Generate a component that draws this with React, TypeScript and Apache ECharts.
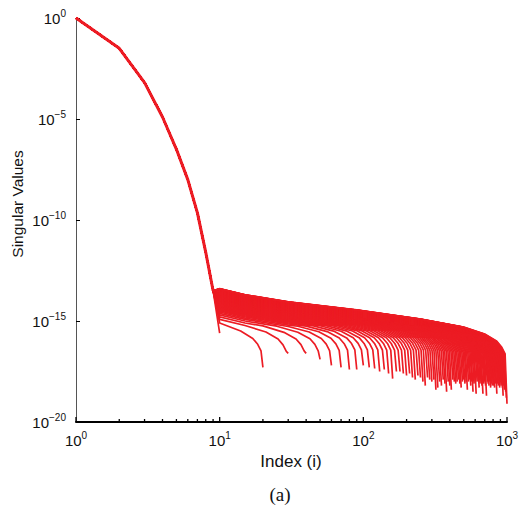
import React, { useEffect, useRef } from "react";
import * as echarts from "echarts";

// Shared head of every curve (index 1..9), exponents of the singular values
const HEAD_INDEX = [1, 2, 3, 4, 5, 6, 7, 8, 9];
const HEAD_EXP = [0, -1.5, -3.2, -4.9, -6.5, -8.0, -9.65, -11.6, -13.5];

// Tail body shape (offset from each curve's level at index 10)
const BODY_INDEX = [10, 15, 30, 90, 250, 1000];
const BODY_OFFSET = [0, -0.3, -0.65, -1.05, -1.5, -2.3];

// Final roll-off of each curve, as a fraction of its size
const DROP_FRACTION = [0.5, 0.7, 0.85, 0.92, 0.97];
const DROP_OFFSET = [0, -0.15, -0.4, -0.65, -0.95];

// Level at index 10 by matrix size
const START_SIZE = [10, 20, 50, 100, 200, 500, 1000];
const START_EXP = [-15.2, -15.1, -14.7, -14.4, -14.1, -13.7, -13.4];

// Matrix sizes (one curve each) and the exponent of its last singular value
const SIZES = [
  10, 20, 30, 40, 50, 60, 70, 80, 90, 100,
  110, 120, 130, 140, 150, 160, 170, 180, 190, 200,
  210, 220, 230, 240, 250, 260, 270, 280, 290, 300,
  310, 320, 330, 340, 350, 360, 370, 380, 390, 400,
  410, 420, 430, 440, 450, 460, 470, 480, 490, 500,
  510, 520, 530, 540, 550, 560, 570, 580, 590, 600,
  610, 620, 630, 640, 650, 660, 670, 680, 690, 700,
  710, 720, 730, 740, 750, 760, 770, 780, 790, 800,
  810, 820, 830, 840, 850, 860, 870, 880, 890, 900,
  910, 920, 930, 940, 950, 960, 970, 980, 990, 1000,
];
const END_EXP = [
  -15.6, -17.3, -16.6, -16.6, -16.9, -17.2, -17.3, -17.4, -17.4, -17.2,
  -17.3, -17.35, -17.5, -17.4, -17.6, -17.85, -17.5, -17.5, -17.6, -17.7,
  -17.6, -17.8, -17.9, -17.7, -17.8, -18.0, -18.2, -17.8, -17.9, -18.0,
  -17.9, -18.4, -18.3, -18.0, -18.2, -17.9, -18.1, -18.5, -18.0, -18.2,
  -18.4, -17.9, -18.0, -18.1, -18.0, -17.9, -18.1, -18.3, -18.0, -17.9,
  -18.1, -18.0, -18.4, -18.0, -17.9, -18.2, -18.0, -18.5, -18.1, -18.0,
  -18.6, -18.0, -17.9, -18.3, -18.1, -18.0, -18.2, -18.6, -18.1, -18.0,
  -18.2, -18.7, -18.0, -18.1, -18.2, -18.0, -18.3, -18.1, -18.2, -18.0,
  -18.2, -18.3, -18.1, -18.0, -18.6, -18.1, -18.2, -18.0, -18.3, -18.0,
  -18.2, -18.1, -18.3, -18.7, -18.2, -18.4, -18.3, -18.5, -18.8, -19.1,
];

const X_MAJOR_TICKS = [1, 10, 100, 1000];
const X_MINOR_TICKS = [2, 3, 4, 5, 6, 7, 8, 9, 20, 30, 40, 50, 60, 70, 80, 90, 200, 300, 400, 500, 600, 700, 800, 900];
const Y_MIN = 1e-20;

const RED = "#ec1c24";
const FONT = "Liberation Sans";
const SERIF = "Liberation Serif";

function interpLog(xs: number[], ys: number[], x: number): number {
  if (x <= xs[0]) return ys[0];
  if (x >= xs[xs.length - 1]) return ys[ys.length - 1];
  for (let k = 0; k < xs.length - 1; k++) {
    if (x >= xs[k] && x <= xs[k + 1]) {
      const t = (Math.log10(x) - Math.log10(xs[k])) / (Math.log10(xs[k + 1]) - Math.log10(xs[k]));
      return ys[k] + t * (ys[k + 1] - ys[k]);
    }
  }
  return ys[ys.length - 1];
}

function curve(n: number, endExp: number): number[][] {
  const pts: number[][] = HEAD_INDEX.map((i, k) => [i, Math.pow(10, HEAD_EXP[k])]);
  const start = interpLog(START_SIZE, START_EXP, n);
  let last = 9;
  for (let k = 0; k < BODY_INDEX.length; k++) {
    const i = BODY_INDEX[k];
    if (i <= 0.5 * n) {
      pts.push([i, Math.pow(10, start + BODY_OFFSET[k])]);
      last = i;
    }
  }
  for (let k = 0; k < DROP_FRACTION.length; k++) {
    const i = DROP_FRACTION[k] * n;
    if (i > last && i > 10 && i < n) {
      const v = start + interpLog(BODY_INDEX, BODY_OFFSET, i) + DROP_OFFSET[k];
      if (v > endExp) {
        pts.push([i, Math.pow(10, v)]);
        last = i;
      }
    }
  }
  pts.push([n, Math.pow(10, endExp)]);
  return pts;
}

function powLabel(value: number): string {
  const e = Math.round(Math.log10(value));
  const s = e < 0 ? "\u2212" + -e : String(e);
  return "{b|10}{s|" + s + "}";
}

const richLabel = {
  b: { fontSize: 15, fontFamily: FONT, color: "#111" },
  s: { fontSize: 10, fontFamily: FONT, color: "#111", padding: [0, 0, 10, 0] },
};

function tickSeries(values: number[], len: number) {
  return {
    type: "custom",
    silent: true,
    z: 5,
    clip: false,
    data: values.map((v) => [v, Y_MIN]),
    renderItem: (_params: any, api: any) => {
      const p = api.coord([api.value(0), api.value(1)]);
      return {
        type: "line",
        shape: { x1: p[0], y1: p[1], x2: p[0], y2: p[1] - len },
        style: { stroke: "#000", lineWidth: 1.3 },
      };
    },
  };
}

export default function App() {
  const ref = useRef<HTMLDivElement>(null);
  useEffect(() => {
    document.body.style.margin = "0";
    if (!ref.current) return;
    const chart = echarts.init(ref.current, undefined, { renderer: "svg" });

    const series: any[] = SIZES.map((n, k) => ({
      type: "line",
      data: curve(n, END_EXP[k]),
      showSymbol: false,
      symbol: "none",
      silent: true,
      lineStyle: { color: RED, width: 1.7 },
      z: 2,
    }));
    series.push({
      type: "line",
      data: HEAD_INDEX.map((i, k) => [i, Math.pow(10, HEAD_EXP[k])]),
      showSymbol: false,
      symbol: "none",
      silent: true,
      lineStyle: { color: RED, width: 3 },
      z: 3,
    });
    series.push(tickSeries(X_MAJOR_TICKS, 5));
    series.push(tickSeries(X_MINOR_TICKS, 3));

    chart.setOption({
      animation: false,
      grid: { left: 76, right: 12, top: 18, bottom: 86, outerBoundsMode: "none" },
      xAxis: {
        type: "log",
        logBase: 10,
        min: 1,
        max: 1000,
        interval: 1,
        axisLine: { show: true, lineStyle: { color: "#000", width: 2 } },
        axisTick: { show: false },
        axisLabel: { formatter: powLabel, rich: richLabel, margin: 8 },
        splitLine: { show: false },
        minorTick: { show: false },
      },
      yAxis: {
        type: "log",
        logBase: 10,
        min: Y_MIN,
        max: 1,
        interval: 5,
        axisLine: { show: true, lineStyle: { color: "#555", width: 1 } },
        axisTick: { show: true, inside: true, length: 4, lineStyle: { color: "#000", width: 1 } },
        axisLabel: { formatter: powLabel, rich: richLabel, margin: 10 },
        splitLine: { show: false },
      },
      graphic: [
        {
          type: "text",
          x: 291,
          y: 461,
          style: {
            text: "Index (i)",
            fontSize: 17,
            fontFamily: FONT,
            fill: "#111",
            textAlign: "center",
            textVerticalAlign: "middle",
          },
        },
        {
          type: "text",
          x: 17,
          y: 204,
          rotation: Math.PI / 2,
          style: {
            text: "Singular Values",
            fontSize: 15.5,
            fontFamily: FONT,
            fill: "#111",
            textAlign: "center",
            textVerticalAlign: "middle",
          },
        },
        {
          type: "text",
          x: 280,
          y: 494,
          style: {
            text: "(a)",
            fontSize: 19,
            fontFamily: SERIF,
            fill: "#111",
            textAlign: "center",
            textVerticalAlign: "middle",
          },
        },
      ],
      series,
    });
    return () => chart.dispose();
  }, []);
  return <div ref={ref} style={{ width: 519, height: 508 }} />;
}
